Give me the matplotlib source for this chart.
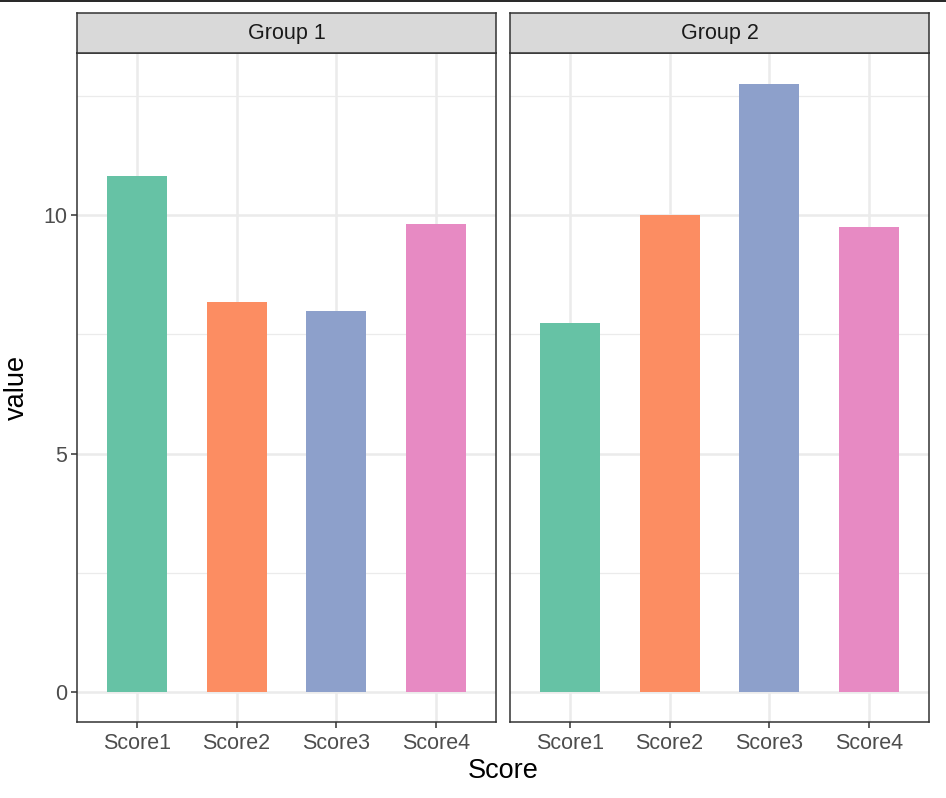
import matplotlib
matplotlib.use("Agg")
import matplotlib.pyplot as plt
from matplotlib.lines import Line2D

plt.rcParams['font.family'] = ['Liberation Sans', 'DejaVu Sans']

groups = ["Group 1", "Group 2"]
categories = ["Score1", "Score2", "Score3", "Score4"]
values_g1 = [10.82, 8.18, 7.99, 9.81]
values_g2 = [7.74, 10.0, 12.75, 9.75]
colors = ["#66C2A5", "#FC8D62", "#8DA0CB", "#E78AC3"]
yticks = [0, 5, 10]
yminor = [2.5, 7.5, 12.5]

W, H = 946, 798
fig = plt.figure(figsize=(W / 100, H / 100), dpi=100)

def fx(px):
    return px / W

def fy(py):
    return 1 - py / H

panels = [(77, 496), (510, 929)]
ptop, pbot = 53, 722
stop = 13

for i, (grp, vals) in enumerate(zip(groups, [values_g1, values_g2])):
    x0, x1 = panels[i]
    ax = fig.add_axes([fx(x0), fy(pbot), fx(x1 - x0), fy(ptop) - fy(pbot)])
    xs = list(range(1, len(categories) + 1))
    ax.set_xlim(0.4, 4.6)
    ax.set_ylim(-0.63, 13.4)
    for y in yminor:
        ax.axhline(y, color="#EBEBEB", lw=0.9, zorder=0)
    for y in yticks:
        ax.axhline(y, color="#EBEBEB", lw=1.8, zorder=0)
    for x in xs:
        ax.axvline(x, color="#EBEBEB", lw=1.8, zorder=0)
    ax.bar(xs, vals, width=0.6, color=colors, zorder=2)
    ax.set_xticks(xs)
    ax.set_xticklabels(categories)
    ax.set_yticks(yticks)
    if i == 0:
        ax.set_yticklabels([str(t) for t in yticks])
        ax.tick_params(axis='y', length=4, width=1.1, color="#333333",
                       labelsize=15.5, labelcolor="#4D4D4D", pad=3)
    else:
        ax.tick_params(axis='y', left=False, labelleft=False)
    ax.tick_params(axis='x', length=4, width=1.1, color="#333333",
                   labelsize=15.5, labelcolor="#4D4D4D", pad=4)
    for s in ax.spines.values():
        s.set_color("#333333")
        s.set_linewidth(1.1)
    # strip
    sax = fig.add_axes([fx(x0), fy(ptop), fx(x1 - x0), fy(stop) - fy(ptop)])
    sax.set_facecolor("#D9D9D9")
    sax.set_xticks([])
    sax.set_yticks([])
    for s in sax.spines.values():
        s.set_color("#333333")
        s.set_linewidth(1.1)
    sax.text(0.5, 0.5, grp, ha="center", va="center", fontsize=15.5,
             color="#1A1A1A", transform=sax.transAxes)

fig.text(fx(503), fy(771), "Score", ha="center", va="center", fontsize=19.5, color="black")
fig.text(fx(17), fy(387), "value", ha="center", va="center", rotation=90,
         fontsize=19.5, color="black")

fig.add_artist(Line2D([0, 1], [fy(0.5), fy(0.5)], transform=fig.transFigure,
                      color="black", lw=1.2))

fig.savefig("out.png", dpi=100)
